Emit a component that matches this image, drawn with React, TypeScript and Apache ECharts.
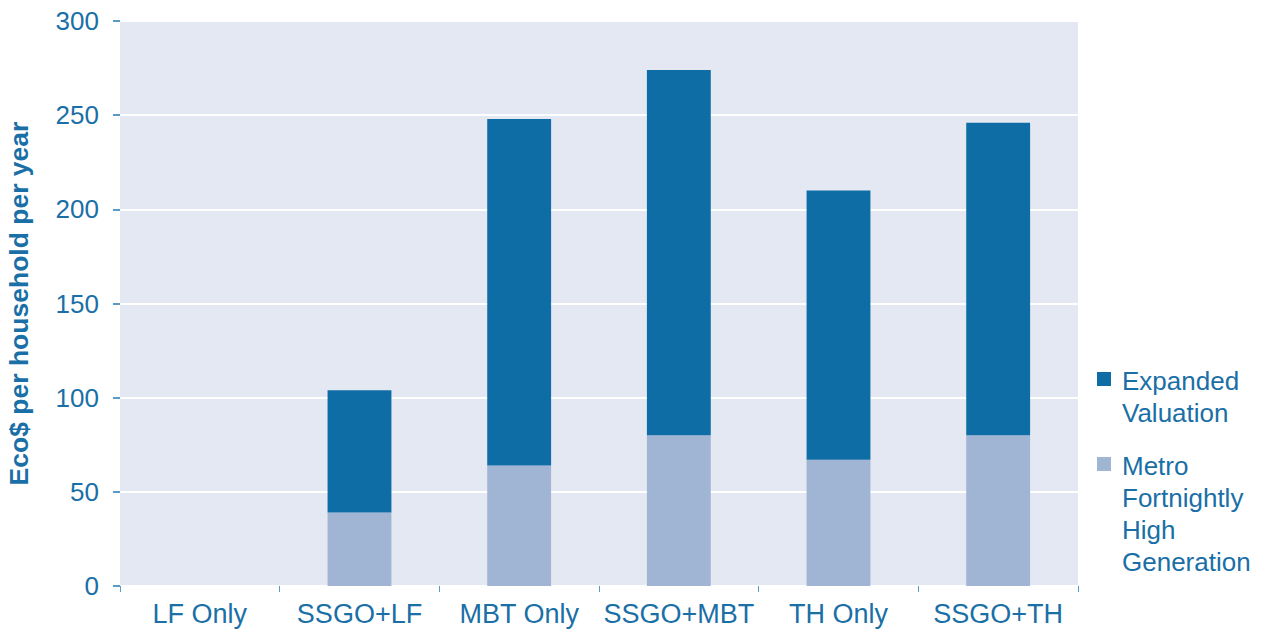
import React, { useEffect, useRef } from "react";
import * as echarts from "echarts";

const categories = ["LF Only", "SSGO+LF", "MBT Only", "SSGO+MBT", "TH Only", "SSGO+TH"];
const metroValues = [0, 39, 64, 80, 67, 80];
const expandedValues = [0, 65, 184, 194, 143, 166];
const seriesNames = ["Metro Fortnightly High Generation", "Expanded Valuation"];
const legendLabels = ["Expanded\nValuation", "Metro\nFortnightly\nHigh\nGeneration"];
const yTicks = [0, 50, 100, 150, 200, 250, 300];

const DARK = "#0f6da6";
const LIGHT = "#a0b4d4";
const TEXT = "#1a6fa6";
const FONT = "Liberation Sans, Arial, sans-serif";

export default function App() {
  const ref = useRef<HTMLDivElement>(null);
  useEffect(() => {
    document.body.style.margin = "0";
    const chart = echarts.init(ref.current!, null, { renderer: "svg" });
    const legendItems = [
      { label: legendLabels[0], color: DARK, y: 365 },
      { label: legendLabels[1], color: LIGHT, y: 450 },
    ];
    chart.setOption({
      animation: false,
      textStyle: { fontFamily: FONT },
      grid: {
        left: 120,
        top: 21,
        right: 190,
        bottom: 43,
        show: true,
        backgroundColor: "#e4e8f2",
        borderWidth: 0,
        outerBoundsMode: "none",
        containLabel: false,
      },
      xAxis: {
        type: "category",
        data: categories,
        axisLine: { show: false },
        axisTick: { show: true, length: 6, lineStyle: { color: "#5a9ac6", width: 1 } },
        axisLabel: { color: TEXT, fontSize: 27, margin: 14, interval: 0, fontFamily: FONT },
      },
      yAxis: {
        type: "value",
        min: yTicks[0],
        max: yTicks[yTicks.length - 1],
        interval: 50,
        name: "Eco$ per household per year",
        nameLocation: "middle",
        nameGap: 88,
        nameTextStyle: { color: TEXT, fontSize: 26.5, fontWeight: "bold", fontFamily: FONT },
        axisLine: { show: false },
        axisTick: { show: true, length: 7, lineStyle: { color: "#5a9ac6", width: 2 } },
        axisLabel: { color: TEXT, fontSize: 26, margin: 21, fontFamily: FONT },
        splitLine: { show: true, lineStyle: { color: "#ffffff", width: 2 } },
      },
      series: [
        {
          name: seriesNames[0],
          type: "bar",
          stack: "total",
          data: metroValues,
          barWidth: "40%",
          itemStyle: { color: LIGHT },
        },
        {
          name: seriesNames[1],
          type: "bar",
          stack: "total",
          data: expandedValues,
          barWidth: "40%",
          itemStyle: { color: DARK },
        },
      ],
      graphic: legendItems.flatMap((it) => [
        {
          type: "rect",
          shape: { x: 1097, y: it.y + 7, width: 14, height: 14 },
          style: { fill: it.color },
        },
        {
          type: "text",
          x: 1122,
          y: it.y,
          style: {
            text: it.label,
            fill: TEXT,
            fontSize: 26,
            fontFamily: FONT,
            lineHeight: 32,
          },
        },
      ]),
    });
    return () => chart.dispose();
  }, []);
  return (
    <div
      ref={ref}
      style={{ position: "absolute", left: 0, top: 0, width: 1268, height: 629 }}
    />
  );
}
